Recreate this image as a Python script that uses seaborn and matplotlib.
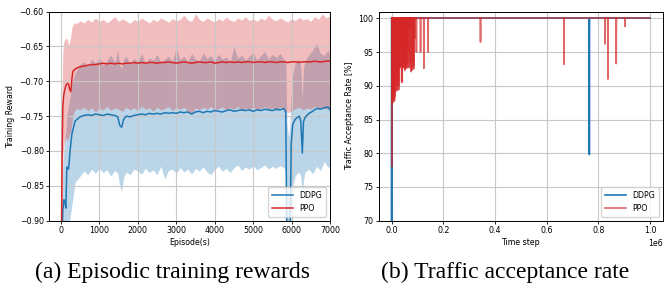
import matplotlib
matplotlib.use("Agg")
import matplotlib.pyplot as plt
import numpy as np
import pandas as pd
import seaborn as sns

# ---- (a) episodic training rewards ----
ddpg_ep = [20, 50, 80, 110, 130, 155, 200, 240, 285, 370,
           500, 600, 700, 800, 900, 1000, 1100, 1200, 1300, 1400,
           1480, 1530, 1580, 1630,
           1700, 1800, 1900, 2000, 2100, 2200, 2300, 2400, 2500, 2600,
           2700, 2800, 2900, 3000, 3100, 3200, 3300, 3400, 3500, 3600,
           3700, 3800, 3900, 4000, 4100, 4200, 4300, 4400, 4500, 4600,
           4700, 4800, 4900, 5000, 5100, 5200, 5300, 5400, 5500, 5600,
           5700, 5800, 5850, 5880, 5920, 5960, 5990, 6030, 6100, 6200,
           6240, 6280, 6310, 6350, 6450, 6550, 6650, 6750, 6850, 6950, 7000]
ddpg_mean = [-0.960, -0.885, -0.870, -0.874, -0.882, -0.823, -0.826, -0.800, -0.776, -0.757,
             -0.751, -0.749, -0.748, -0.749, -0.747, -0.748, -0.749, -0.747, -0.748, -0.749,
             -0.751, -0.763, -0.766, -0.755,
             -0.750, -0.751, -0.749, -0.748, -0.747, -0.748, -0.746, -0.747, -0.746, -0.747,
             -0.745, -0.746, -0.745, -0.746, -0.744, -0.745, -0.744, -0.747, -0.744, -0.743,
             -0.745, -0.743, -0.744, -0.742, -0.743, -0.744, -0.742, -0.741, -0.743, -0.742,
             -0.741, -0.742, -0.741, -0.743, -0.741, -0.742, -0.740, -0.741, -0.742, -0.740,
             -0.741, -0.739, -0.744, -0.950, -0.970, -0.930, -0.790, -0.762, -0.754, -0.750,
             -0.757, -0.803, -0.758, -0.752, -0.746, -0.743, -0.739, -0.740, -0.738, -0.737, -0.741]
ddpg_hi = [-0.900, -0.820, -0.795, -0.780, -0.772, -0.748, -0.735, -0.722, -0.705, -0.688,
           -0.676, -0.672, -0.679, -0.668, -0.674, -0.666, -0.677, -0.670, -0.662, -0.673,
           -0.655, -0.676, -0.682, -0.668,
           -0.664, -0.675, -0.667, -0.672, -0.660, -0.674, -0.666, -0.670, -0.661, -0.673,
           -0.668, -0.664, -0.671, -0.652, -0.669, -0.664, -0.672, -0.660, -0.668, -0.671,
           -0.659, -0.667, -0.663, -0.670, -0.661, -0.668, -0.665, -0.672, -0.650, -0.667,
           -0.662, -0.669, -0.664, -0.658, -0.670, -0.663, -0.657, -0.668, -0.661, -0.666,
           -0.660, -0.668, -0.672, -0.760, -0.780, -0.760, -0.720, -0.690, -0.672, -0.668,
           -0.680, -0.725, -0.682, -0.670, -0.662, -0.655, -0.645, -0.660, -0.663, -0.655, -0.664]
ddpg_lo = [-1.000, -0.960, -0.945, -0.950, -0.960, -0.920, -0.915, -0.895, -0.878, -0.845,
           -0.836, -0.829, -0.834, -0.826, -0.832, -0.825, -0.831, -0.827, -0.836, -0.828,
           -0.832, -0.850, -0.858, -0.838,
           -0.830, -0.834, -0.826, -0.829, -0.833, -0.825, -0.831, -0.827, -0.834, -0.822,
           -0.840, -0.828, -0.826, -0.832, -0.824, -0.830, -0.826, -0.833, -0.825, -0.829,
           -0.823, -0.830, -0.834, -0.826, -0.822, -0.829, -0.825, -0.831, -0.824, -0.820,
           -0.828, -0.823, -0.826, -0.821, -0.827, -0.824, -0.820, -0.826, -0.822, -0.825,
           -0.821, -0.824, -0.830, -1.000, -1.000, -1.000, -0.880, -0.850, -0.835, -0.830,
           -0.838, -0.865, -0.842, -0.830, -0.826, -0.833, -0.822, -0.828, -0.815, -0.824, -0.820]

ppo_ep = [10, 30, 50, 70, 90, 130, 170, 200, 225, 260, 285, 310, 360, 415, 500,
          600, 700, 800, 900, 1000, 1100, 1200, 1300, 1400, 1500, 1600, 1700, 1800, 1900,
          2000, 2100, 2200, 2300, 2400, 2500, 2600, 2700, 2800, 2900,
          3000, 3100, 3200, 3300, 3400, 3500, 3600, 3700, 3800, 3900,
          4000, 4100, 4200, 4300, 4400, 4500, 4600, 4700, 4800, 4900,
          5000, 5100, 5200, 5300, 5400, 5500, 5600, 5700, 5800, 5900,
          6000, 6100, 6200, 6300, 6400, 6500, 6600, 6700, 6800, 6900, 7000]
ppo_mean = [-0.960, -0.820, -0.737, -0.722, -0.715, -0.706, -0.703, -0.704, -0.711, -0.715,
            -0.698, -0.686, -0.683, -0.681, -0.679,
            -0.678, -0.677, -0.676, -0.676, -0.675, -0.674, -0.675, -0.674, -0.675, -0.674,
            -0.675, -0.674, -0.674, -0.673,
            -0.674, -0.673, -0.674, -0.673, -0.673, -0.674, -0.673, -0.673, -0.672, -0.673,
            -0.674, -0.673, -0.672, -0.673, -0.674, -0.673, -0.672, -0.673, -0.673, -0.672,
            -0.674, -0.673, -0.672, -0.673, -0.672, -0.673, -0.672, -0.673, -0.672, -0.672,
            -0.673, -0.672, -0.672, -0.673, -0.672, -0.672, -0.673, -0.672, -0.672, -0.673,
            -0.672, -0.672, -0.673, -0.672, -0.672, -0.672, -0.671, -0.672, -0.672, -0.671, -0.671]
ppo_hi = [-0.900, -0.720, -0.660, -0.645, -0.641, -0.638, -0.640, -0.648, -0.644, -0.634,
          -0.624, -0.619, -0.616, -0.617, -0.613,
          -0.616, -0.611, -0.615, -0.609, -0.614, -0.611, -0.616, -0.612, -0.607, -0.614,
          -0.610, -0.613, -0.617, -0.611,
          -0.614, -0.609, -0.613, -0.616, -0.611, -0.614, -0.609, -0.612, -0.615, -0.610,
          -0.613, -0.611, -0.605, -0.612, -0.614, -0.603, -0.611, -0.614, -0.609, -0.612,
          -0.615, -0.610, -0.613, -0.608, -0.612, -0.614, -0.609, -0.612, -0.607, -0.613,
          -0.610, -0.614, -0.609, -0.612, -0.605, -0.611, -0.613, -0.609, -0.612, -0.615,
          -0.610, -0.613, -0.608, -0.612, -0.610, -0.614, -0.607, -0.611, -0.603, -0.609, -0.606]
ppo_lo = [-1.000, -0.920, -0.810, -0.795, -0.788, -0.780, -0.786, -0.781, -0.776, -0.772,
          -0.762, -0.748, -0.742, -0.739, -0.741,
          -0.737, -0.742, -0.738, -0.744, -0.739, -0.741, -0.736, -0.742, -0.738, -0.740,
          -0.743, -0.737, -0.741, -0.738,
          -0.742, -0.736, -0.740, -0.738, -0.743, -0.737, -0.741, -0.739, -0.736, -0.742,
          -0.738, -0.740, -0.737, -0.743, -0.746, -0.738, -0.741, -0.737, -0.740, -0.736,
          -0.742, -0.739, -0.737, -0.741, -0.738, -0.740, -0.736, -0.742, -0.738, -0.740,
          -0.737, -0.741, -0.739, -0.736, -0.740, -0.738, -0.742, -0.737, -0.740, -0.745,
          -0.743, -0.739, -0.737, -0.741, -0.738, -0.740, -0.736, -0.739, -0.737, -0.740, -0.738]

# ---- (b) traffic acceptance rate: drops from 100 % (time step in thousands) ----
ddpg_drop_t = [0, 765]
ddpg_drop_v = [55.0, 79.8]
ppo_drop_t = [1.5, 3, 5, 7, 9, 11, 13, 15, 17, 19, 21, 23, 25, 27, 29, 31, 33, 35, 37, 39,
              41, 43, 45, 47, 49, 51, 53, 55, 57, 59, 61, 63, 65, 67, 69, 71, 73, 75, 77, 79,
              81, 83, 85, 87, 89, 96, 112, 125, 141, 344, 667, 826, 837, 869, 903]
ppo_drop_v = [78.0, 87.5, 88.5, 87.6, 88.0, 87.8, 88.4, 89.1, 90.0, 91.3, 89.4, 89.3, 90.6,
              90.0, 89.5, 92.6, 92.8, 93.0, 95.0, 90.5, 90.6, 92.7, 92.9, 92.7, 93.5, 92.3,
              92.5, 94.0, 92.6, 93.2, 92.7, 95.0, 92.8, 98.8, 92.7, 93.5, 98.5, 92.1, 92.3,
              98.9, 92.4, 93.8, 93.0, 92.6, 97.0, 95.0, 95.0, 92.6, 95.0, 96.5, 93.2, 96.2,
              91.0, 93.3, 98.8]


def spike_frame(drop_t, drop_v, t_end=1000):
    # rate sits at 100 % except at the logged drops; each drop is its own unit
    rows = [(0.0, 100.0, 0), (t_end, 100.0, 0)]
    for i, (dt, dv) in enumerate(zip(drop_t, drop_v), start=1):
        rows += [(max(dt - 0.8, 0), 100.0, i), (dt, dv, i), (dt + 0.8, 100.0, i)]
    df = pd.DataFrame(rows, columns=["t", "rate", "unit"])
    df["t"] = df["t"] * 1000
    return df


blue = "#1f77b4"
red = "#d62728"
fs = 5.7

fig = plt.figure(figsize=(6.64, 2.84), dpi=100)
ax1 = fig.add_axes([0.0743, 0.223, 0.4227, 0.736])
ax2 = fig.add_axes([0.5703, 0.223, 0.4282, 0.736])

ax1.fill_between(ddpg_ep, ddpg_lo, ddpg_hi, color=blue, alpha=0.3, linewidth=0)
ax1.fill_between(ppo_ep, ppo_lo, ppo_hi, color=red, alpha=0.3, linewidth=0)
sns.lineplot(x=ddpg_ep, y=ddpg_mean, ax=ax1, color=blue, linewidth=1.1, label="DDPG")
sns.lineplot(x=ppo_ep, y=ppo_mean, ax=ax1, color=red, linewidth=1.1, label="PPO")
ax1.set_xlim(-300, 7000)
ax1.set_ylim(-0.9, -0.6)
ax1.set_xlabel("Episode(s)", fontsize=fs, labelpad=2)
ax1.set_ylabel("Training Reward", fontsize=fs, labelpad=3)
ax1.legend(loc="lower right", fontsize=fs, handlelength=2.6, borderpad=0.5,
           labelspacing=0.5, framealpha=0.8)

df_ddpg = spike_frame(ddpg_drop_t, ddpg_drop_v)
df_ppo = spike_frame(ppo_drop_t, ppo_drop_v)
sns.lineplot(data=df_ddpg, x="t", y="rate", units="unit", estimator=None, sort=False,
             ax=ax2, color=blue, linewidth=1.2, legend=False)
n_ddpg = len(ax2.lines)
sns.lineplot(data=df_ppo, x="t", y="rate", units="unit", estimator=None, sort=False,
             ax=ax2, color=red, linewidth=1.2, alpha=0.7, legend=False)
ax2.set_xlim(-0.05e6, 1.05e6)
ax2.set_ylim(70, 101)
ax2.set_xlabel("Time step", fontsize=fs, labelpad=2)
ax2.set_ylabel("Traffic Acceptance Rate [%]", fontsize=fs, labelpad=3)
ax2.xaxis.get_offset_text().set_fontsize(fs)
ax2.legend([ax2.lines[0], ax2.lines[n_ddpg]], ["DDPG", "PPO"], loc="lower right",
           fontsize=fs, handlelength=2.6, borderpad=0.5, labelspacing=0.5, framealpha=0.8)

for ax in (ax1, ax2):
    ax.grid(True, color="#c8c8c8", linewidth=0.8)
    ax.tick_params(labelsize=fs, length=2.5, width=0.6, pad=1.5)
    for s in ax.spines.values():
        s.set_linewidth(0.7)

fig.text(0.26, 0.02, "(a) Episodic training rewards", fontsize=17,
         family="Liberation Serif", ha="center", va="baseline")
fig.text(0.76, 0.02, "(b) Traffic acceptance rate", fontsize=17,
         family="Liberation Serif", ha="center", va="baseline")

fig.savefig("out.png", dpi=100)
